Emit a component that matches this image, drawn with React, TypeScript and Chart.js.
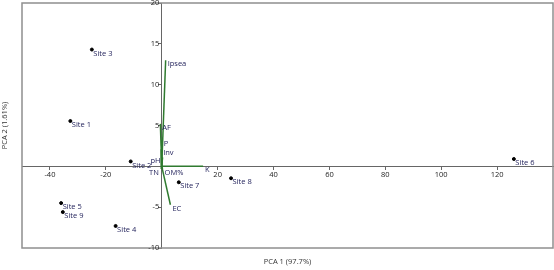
import React, { useEffect, useRef } from "react";
import { Chart, registerables } from "chart.js";

Chart.register(...registerables);

const siteNames = ["Site 1", "Site 2", "Site 3", "Site 4", "Site 5", "Site 6", "Site 7", "Site 8", "Site 9"];
const siteX = [-32.7, -11.1, -25.0, -16.5, -36.0, 126.0, 6.1, 24.8, -35.4];
const siteY = [5.55, 0.6, 14.3, -7.3, -4.5, 0.9, -1.95, -1.46, -5.6];

const vectorNames = ["Ipsea", "AF", "P", "Inv", "pH", "TN", "OM%", "K", "EC"];
const vectorX = [1.4, -0.5, 0.0, -0.2, 0.3, -0.3, 0.3, 14.8, 3.1];
const vectorY = [13.0, 5.2, 3.2, 2.1, 1.1, -0.3, -0.3, 0.0, -4.7];
// label side for each vector name (text alignment only)
const vectorAlign: Record<string, CanvasTextAlign> = {
  Ipsea: "left", AF: "left", P: "left", Inv: "left", pH: "right", TN: "right", "OM%": "left", K: "left", EC: "left",
};

const xTicks = [-40, -20, 20, 40, 60, 80, 100, 120];
const yTicks = [-10, -5, 5, 10, 15, 20];
const xTitle = "PCA 1 (97.7%)";
const yTitle = "PCA 2 (1.61%)";

const FONT = '"Open Sans", "Noto Sans", sans-serif';
const LABEL_COLOR = "#1e1e58";
const TICK_COLOR = "#222";
const GREEN = "#2f7a2f";

export default function App() {
  const ref = useRef<HTMLCanvasElement | null>(null);
  useEffect(() => {
    document.body.style.margin = "0";
    const canvas = ref.current!;
    const labelPlugin = {
      id: "labels",
      beforeDatasetsDraw(chart: any) {
        const { ctx, chartArea: a } = chart;
        ctx.save();
        ctx.strokeStyle = "#8f8f8f";
        ctx.lineWidth = 1.5;
        ctx.strokeRect(a.left, a.top, a.right - a.left, a.bottom - a.top);
        ctx.restore();
      },
      afterDatasetsDraw(chart: any) {
        const { ctx, scales, chartArea: a } = chart;
        const xs = scales.x, ys = scales.y;
        ctx.save();
        ctx.font = `7.5px ${FONT}`;
        // y tick labels
        ctx.fillStyle = TICK_COLOR;
        ctx.textAlign = "right";
        ctx.textBaseline = "middle";
        const axisX = xs.getPixelForValue(0);
        ys.ticks.forEach((t: any) => {
          ctx.fillText(String(t.value), axisX - 2.5, ys.getPixelForValue(t.value));
        });
        ctx.fillStyle = LABEL_COLOR;
        siteNames.forEach((n, i) => {
          ctx.textAlign = "left";
          ctx.fillText(n, xs.getPixelForValue(siteX[i]) + 1.5, ys.getPixelForValue(siteY[i]) + 4);
        });
        vectorNames.forEach((n, i) => {
          const al = vectorAlign[n];
          ctx.textAlign = al;
          const px = xs.getPixelForValue(vectorX[i]) + (al === "left" ? 2 : -2);
          ctx.fillText(n, px, ys.getPixelForValue(vectorY[i]) + 4);
        });
        ctx.fillStyle = "#333";
        ctx.textAlign = "center";
        ctx.fillText(xTitle, (a.left + a.right) / 2, 262);
        ctx.translate(5, (a.top + a.bottom) / 2);
        ctx.rotate(-Math.PI / 2);
        ctx.fillText(yTitle, 0, 0);
        ctx.restore();
      },
    };
    const vectorDatasets = vectorNames.map((n, i) => ({
      type: "line" as const,
      label: n,
      data: [{ x: 0, y: 0 }, { x: vectorX[i], y: vectorY[i] }],
      borderColor: GREEN,
      borderWidth: 1.5,
      pointRadius: 0,
      pointHoverRadius: 0,
      fill: false,
    }));
    const zeroFit = (s: any) => {
      s.paddingLeft = 0; s.paddingRight = 0; s.paddingTop = 0; s.paddingBottom = 0;
      if (s.isHorizontal()) s.height = 0; else s.width = 0;
    };
    const chart = new Chart(canvas, {
      type: "scatter",
      data: {
        datasets: [
          ...vectorDatasets,
          {
            type: "scatter" as const,
            label: "Sites",
            data: siteX.map((x, i) => ({ x, y: siteY[i] })),
            backgroundColor: "#000",
            borderColor: "#000",
            pointRadius: 1.5,
            pointHoverRadius: 1.5,
          },
        ] as any,
      },
      options: {
        animation: false,
        responsive: false,
        layout: { autoPadding: false, padding: { left: 22, top: 3, right: 1, bottom: 22 } },
        plugins: { legend: { display: false }, tooltip: { enabled: false } },
        scales: {
          x: {
            type: "linear",
            position: { y: 0 } as any,
            min: -50,
            max: 140,
            afterBuildTicks: (s: any) => { s.ticks = xTicks.map((v) => ({ value: v })); },
            afterFit: zeroFit,
            ticks: { color: TICK_COLOR, font: { size: 7.5, family: FONT }, padding: 1, maxRotation: 0, autoSkip: false },
            grid: { drawOnChartArea: false, drawTicks: true, tickLength: 3, color: "#666" },
            border: { display: true, color: "#666", width: 1 },
          },
          y: {
            type: "linear",
            position: { x: 0 } as any,
            min: -10,
            max: 20,
            afterBuildTicks: (s: any) => { s.ticks = yTicks.map((v) => ({ value: v })); },
            afterFit: zeroFit,
            ticks: { display: false, autoSkip: false },
            grid: { drawOnChartArea: false, drawTicks: true, tickLength: 3, color: "#666" },
            border: { display: true, color: "#666", width: 1 },
          },
        },
      },
      plugins: [labelPlugin],
    });
    return () => chart.destroy();
  }, []);
  return (
    <div style={{ position: "absolute", left: 0, top: 0, width: 554, height: 270, background: "#fff" }}>
      <canvas ref={ref} width={554} height={270} style={{ display: "block" }} />
    </div>
  );
}
